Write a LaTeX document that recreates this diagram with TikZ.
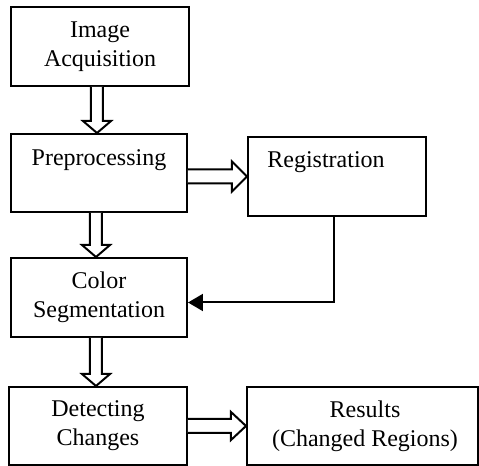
\documentclass[tikz,border=0pt]{standalone}
\usepackage{fontspec}
\setmainfont{Liberation Serif}
\usetikzlibrary{calc,arrows.meta}
\begin{document}
\begin{tikzpicture}[x=0.5pt,y=-0.5pt,
  box/.style={draw=black,line width=1pt,rectangle,inner sep=0pt,fill=white},
  txt/.style={align=center,font=\fontsize{12}{14.5}\selectfont,inner sep=0pt},
  blk/.style={draw=black,line width=1pt,fill=white,line join=miter}]
\useasboundingbox (0,0) rectangle (479,466);
\node[box,minimum width=89pt,minimum height=39.5pt] (acq) at (100,46.5) {};
\node[txt] (acqt) at (100,47) {Image\\Acquisition};
\node[box,minimum width=88pt,minimum height=39pt] (pre) at (99,173) {};
\node[txt] (pret) at (99,160) {Preprocessing};
\node[box,minimum width=89pt,minimum height=39.5pt] (reg) at (337,176.5) {};
\node[txt] (regt) at (326,162) {Registration};
\node[box,minimum width=88pt,minimum height=39.5pt] (cs) at (99,297.5) {};
\node[txt] (cst) at (99,297.5) {Color\\Segmentation};
\node[box,minimum width=89pt,minimum height=39pt] (det) at (98,426) {};
\node[txt] (dett) at (98,426) {Detecting\\Changes};
\node[box,minimum width=115.5pt,minimum height=39pt] (res) at (362.5,426) {};
\node[txt] (rest) at (365,426) {Results\\(Changed Regions)};
% vertical block arrows
\foreach \a/\b in {acq/pre,pre/cs,cs/det}{
  \draw[blk] let \p1=(\a.south), \p2=(\b.north) in
    (\x1-4.5pt,\y1) -- (\x1-4.5pt,\y2+6pt) -- (\x1-8.5pt,\y2+6pt) -- (\x1-1.5pt,\y2)
    -- (\x1+5.5pt,\y2+6pt) -- (\x1+1.5pt,\y2+6pt) -- (\x1+1.5pt,\y1);
}
% horizontal block arrows
\draw[blk] let \p1=(pre.east), \p2=(reg.west) in
  (\x1,\y2+3.5pt) -- (\x2-7.5pt,\y2+3.5pt) -- (\x2-7.5pt,\y2+7.5pt) -- (\x2,\y2)
  -- (\x2-7.5pt,\y2-7.5pt) -- (\x2-7.5pt,\y2-3.5pt) -- (\x1,\y2-3.5pt);
\draw[blk] let \p1=(det.east), \p2=(res.west) in
  (\x1,\y2+3.5pt) -- (\x2-7.5pt,\y2+3.5pt) -- (\x2-7.5pt,\y2+7pt) -- (\x2,\y2)
  -- (\x2-7.5pt,\y2-7pt) -- (\x2-7.5pt,\y2-3.5pt) -- (\x1,\y2-3.5pt);
% feedback
\draw[line width=1pt,-{Triangle[length=7.5pt,width=8.5pt]}]
  ([xshift=-1.5pt]reg.south) |- ([yshift=-2.5pt]cs.east);
\end{tikzpicture}
\end{document}
